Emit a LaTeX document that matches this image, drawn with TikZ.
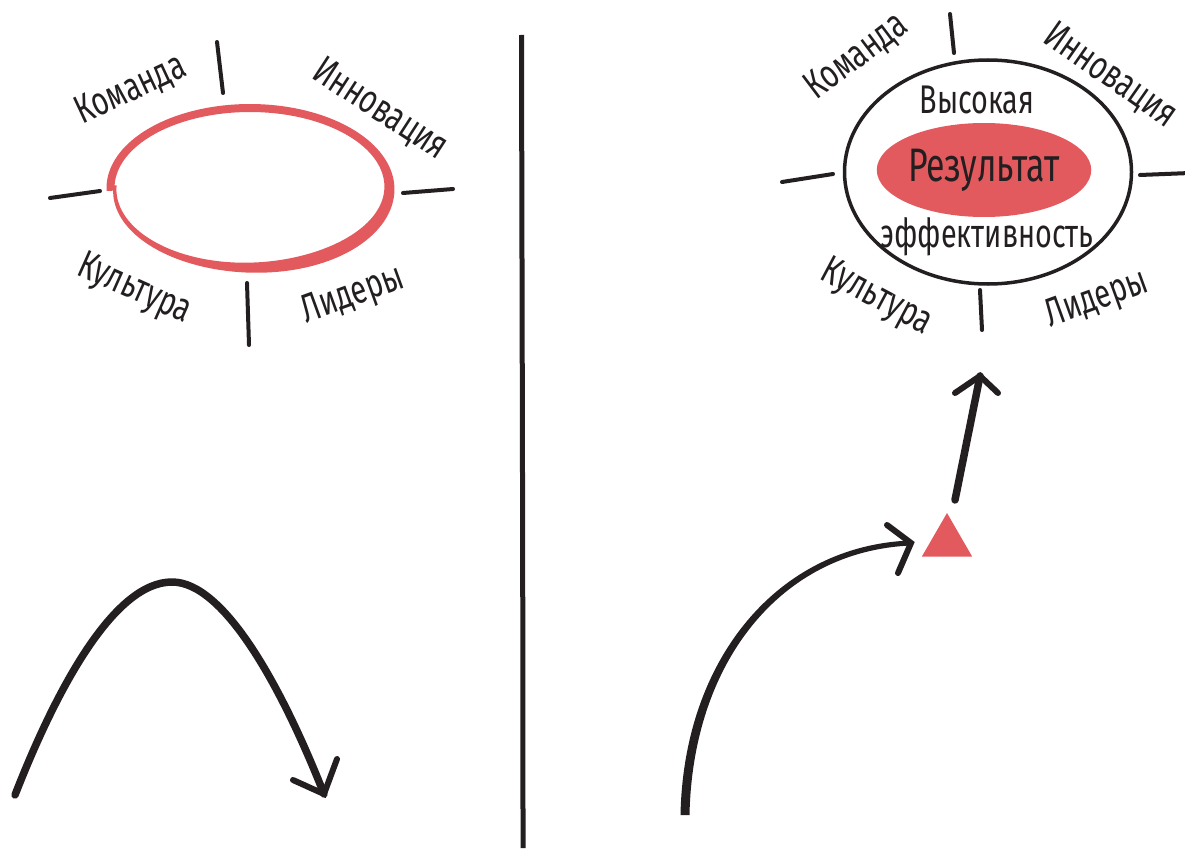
\documentclass[tikz,border=0pt]{standalone}
\usepackage{fontspec}
\setmainfont{Fira Sans}[FakeStretch=0.72]
\usetikzlibrary{shapes.geometric}
\definecolor{ink}{HTML}{231F20}
\definecolor{coral}{HTML}{E35A5E}

% width of the hand-drawn ring along its course (angle in degrees)
\pgfmathdeclarefunction{ringw}{1}{%
  \pgfmathparse{8+6*exp(-1*pow((#1-230)/50,2))-5*pow(#1/362,5)}}
\pgfmathdeclarefunction{ringdx}{1}{%
  \pgfmathparse{139.5-4.5*pow(#1/362,6)}}
\pgfmathdeclarefunction{ringdy}{1}{%
  \pgfmathparse{80-2*pow(#1/362,6)}}

\begin{document}
\begin{tikzpicture}[x=1pt,y=-1pt,
  tick/.style={ink, line width=4pt, line cap=round},
  lbl/.style={text=ink, font=\fontsize{40}{40}\selectfont, inner sep=0pt},
  biglbl/.style={text=ink, font=\fontsize{47}{47}\selectfont, inner sep=0pt},
  stroke/.style={ink, line width=7.5pt, line cap=round, line join=round},
  head/.style={ink, line width=6pt, line cap=round, line join=miter},
  rim/.style={draw=ink, line width=3.5pt, ellipse, inner sep=0pt},
]
\useasboundingbox (0,0) rectangle (1185,848);

% ---------- left panel ----------
% red ring drawn in one sweep, heavier towards the lower right
\fill[coral]
  plot[domain=-2:362, samples=150, variable=\t]
    ({250-(ringdx(\t)+ringw(\t)/2)*cos(\t)}, {188-(ringdy(\t)+ringw(\t)/2)*sin(\t)})
  -- plot[domain=362:-2, samples=150, variable=\t]
    ({250-(ringdx(\t)-ringw(\t)/2)*cos(\t)}, {188-(ringdy(\t)-ringw(\t)/2)*sin(\t)})
  -- cycle;

\coordinate (tLt1) at (217,42);  \coordinate (tLt2) at (223,93);
\coordinate (tLl1) at (50,198);  \coordinate (tLl2) at (100,191);
\coordinate (tLr1) at (403,193); \coordinate (tLr2) at (453,189);
\coordinate (tLb1) at (247,283); \coordinate (tLb2) at (249,345);
\draw[tick] (tLt1) -- (tLt2);
\draw[tick] (tLl1) -- (tLl2);
\draw[tick] (tLr1) -- (tLr2);
\draw[tick] (tLb1) -- (tLb2);

\node[lbl, rotate=25]  (komL) at (131,90)  {Команда};
\node[lbl, rotate=-33] (innL) at (380,110) {Инновация};
\node[lbl, rotate=-24] (kulL) at (134,290) {Культура};
\node[lbl, rotate=20]  (lidL) at (353,296) {Лидеры};

% rise and fall
\coordinate (lA0) at (15,795);
\coordinate (lApk) at (172,582);
\coordinate (lA1) at (324,794);
\coordinate (lAh1) at (293,780);
\coordinate (lAh2) at (337,759);
\draw[stroke] (lA0) .. controls (58,685) and (115,582) .. (lApk)
              .. controls (225,582) and (283,690) .. (lA1);
\draw[head] (lAh1) -- (lA1) -- (lAh2);

% ---------- divider ----------
\coordinate (dTop) at (521.5,35);
\coordinate (dBot) at (523,848);
\draw[ink, line width=5pt] (dTop) .. controls (522,300) and (523,600) .. (dBot);

% ---------- right panel ----------
\node[rim, minimum width=287pt, minimum height=224pt] (outer) at (988,172) {};
\node[fill=coral, ellipse, inner sep=0pt, minimum width=188pt, minimum height=94pt,
      biglbl] (result) at (984,170) {Результат};
\node[lbl] (high) at (977,100) {Высокая};
\node[lbl] (eff)  at (987,237) {эффективность};

\coordinate (tRt1) at (950,14);   \coordinate (tRt2) at (954,53);
\coordinate (tRl1) at (782,182);  \coordinate (tRl2) at (833,174);
\coordinate (tRr1) at (1140,175); \coordinate (tRr2) at (1190,173);
\coordinate (tRb1) at (980,290);  \coordinate (tRb2) at (982,330);
\draw[tick] (tRt1) -- (tRt2);
\draw[tick] (tRl1) -- (tRl2);
\draw[tick] (tRr1) -- (tRr2);
\draw[tick] (tRb1) -- (tRb2);

\node[lbl, rotate=37]  (komR) at (857,57)   {Команда};
\node[lbl, rotate=-35] (innR) at (1110,76)  {Инновация};
\node[lbl, rotate=-28] (kulR) at (876,298)  {Культура};
\node[lbl, rotate=20]  (lidR) at (1097,300) {Лидеры};

% rising curve into the marker (tapering), then up to the result
\node[regular polygon, regular polygon sides=3, fill=coral, inner sep=0pt,
      minimum size=58pt] (tri) at (947,542) {};
\coordinate (rA0) at (685,815);
\coordinate (rA1) at (911,543);
\fill[ink] (680.5,815) .. controls (683.5,658) and (779,545) .. (911,540.5)
           -- (911,545.5) .. controls (781,551) and (692.5,662) .. (689.5,815) -- cycle;
\draw[head] (887,525) -- (rA1) -- (898,573);

\coordinate (uA0) at (955,500);
\coordinate (uA1) at (980,376);
\draw[stroke] (uA0) -- (uA1);
\draw[head] (955,393) -- (uA1) -- (998,393);
\end{tikzpicture}
\end{document}
